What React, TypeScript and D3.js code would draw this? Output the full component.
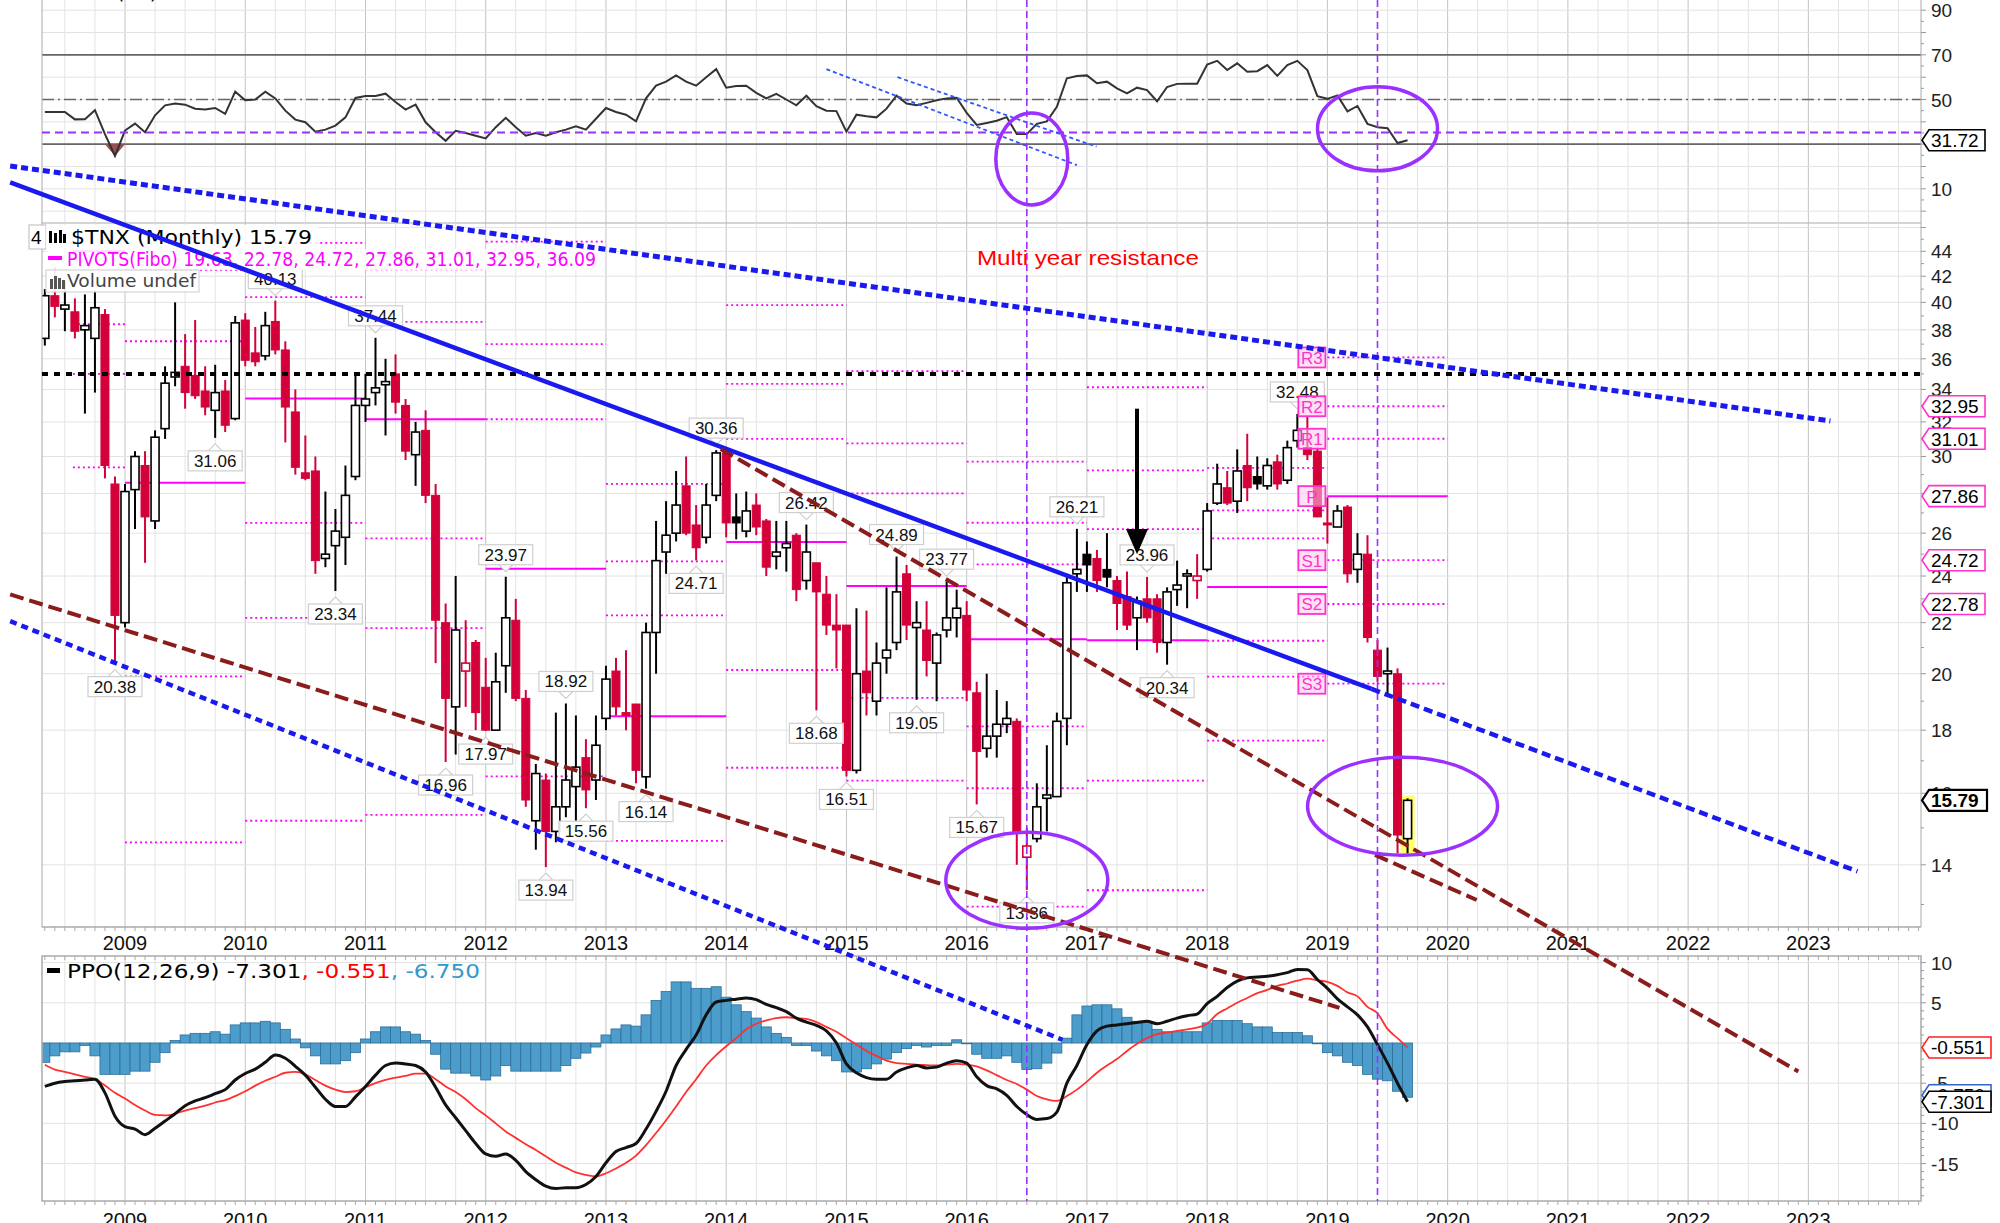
import React from "react";
import * as d3 from "d3";

// ---------------- DATA ----------------
// month index relative to Jan 2009 (0 = Jan 2009); first bar = May 2008
const START_MONTH = -8;

const opens = [
  37.4, 40.5, 39.5, 39.3, 38.0, 37.4, 39.1, 28.5,
  22.0, 28.2, 29.5, 26.6, 31.6, 34.8, 35.5, 34.9, 33.9, 32.7, 33.9, 32.2,
  38.7, 36.4, 36.2, 38.6, 36.6, 32.6, 29.1, 29.2, 24.8, 25.4, 25.8, 28.9,
  33.0, 33.8, 34.3, 35.0, 33.0, 30.1, 31.5, 27.9, 22.0, 18.8, 20.1, 21.2,
  19.5, 18.0, 20.3, 22.1, 19.1, 15.2, 16.4, 14.9, 15.6, 16.2, 17.1, 16.4,
  18.4, 20.1, 18.6, 18.9, 16.5, 21.6, 25.1, 26.0, 28.4, 26.4, 25.8, 27.9,
  30.2, 26.8, 26.1, 27.4, 26.6, 24.9, 25.3, 25.9, 23.8, 24.6, 23.2, 21.9,
  21.9, 16.7, 20.1, 19.0, 20.6, 21.2, 24.1, 21.8, 21.7, 20.4, 21.7, 22.2,
  22.3, 19.3, 17.4, 17.8, 18.2, 18.3, 14.2, 14.7, 15.85, 15.9, 18.4, 24.1,
  25.0, 24.8, 24.3, 23.8, 23.1, 22.2, 23.0, 23.0, 21.2, 23.4, 24.0, 23.8,
  24.3, 27.5, 28.3, 27.6, 29.5, 28.9, 28.4, 29.7, 28.7, 30.9, 30.5, 30.3,
  26.5, 26.3, 27.3, 24.3, 25.0, 20.9, 20.0, 20.0, 14.7,
];
const highs = [
  41.0, 42.7, 41.6, 40.3, 40.6, 40.9, 39.5, 28.9,
  28.5, 30.3, 30.3, 31.5, 35.5, 40.0, 37.7, 38.7, 35.5, 35.6, 34.6, 39.0,
  39.2, 38.2, 39.3, 40.13, 37.2, 34.0, 31.2, 30.0, 28.1, 27.2, 29.5, 35.0,
  35.0, 37.44, 36.0, 36.3, 33.4, 32.0, 32.7, 28.5, 22.8, 24.0, 22.1, 21.3,
  20.6, 20.8, 23.97, 23.0, 19.4, 16.9, 16.6, 18.6, 18.92, 18.5, 17.7, 18.5,
  20.3, 20.6, 20.9, 18.9, 22.0, 26.6, 27.6, 29.2, 30.0, 27.4, 28.5, 30.36,
  30.3, 28.0, 28.1, 28.0, 26.7, 26.6, 26.6, 26.0, 26.42, 24.6, 24.0, 23.2,
  21.9, 22.6, 22.5, 21.2, 23.5, 24.89, 24.5, 22.9, 22.9, 21.6, 23.77, 23.4,
  22.9, 19.7, 20.0, 19.4, 19.0, 18.4, 15.0, 16.3, 17.5, 18.6, 24.1, 26.21,
  25.6, 25.2, 26.0, 24.0, 24.2, 23.1, 23.96, 23.2, 23.5, 24.7, 24.3, 25.0,
  27.5, 29.6, 29.2, 30.4, 31.3, 30.0, 29.9, 30.1, 30.9, 32.48, 32.3, 30.5,
  27.8, 27.4, 27.4, 26.0, 25.9, 21.3, 21.0, 20.2, 15.85,
];
const lows = [
  36.9, 38.9, 37.9, 37.4, 32.5, 33.8, 28.8, 20.38,
  21.8, 26.2, 24.6, 26.2, 31.0, 34.2, 32.8, 33.4, 32.4, 31.06, 31.4, 32.1,
  35.5, 35.5, 35.9, 36.3, 30.8, 29.0, 28.7, 24.1, 24.4, 23.34, 24.5, 28.7,
  32.0, 33.0, 31.2, 32.5, 29.8, 28.4, 27.5, 20.4, 16.96, 17.2, 18.8, 18.0,
  17.97, 18.0, 19.3, 19.0, 15.6, 14.4, 13.94, 14.6, 15.3, 15.2, 15.56, 15.8,
  18.0, 18.5, 18.0, 16.3, 16.14, 20.0, 24.1, 25.6, 25.9, 24.71, 25.5, 27.6,
  25.8, 25.7, 25.8, 25.9, 24.0, 24.3, 24.2, 22.9, 23.4, 18.68, 21.5, 20.2,
  16.51, 16.6, 18.5, 18.5, 20.0, 20.9, 21.3, 19.05, 19.9, 19.0, 21.4, 21.4,
  19.0, 15.67, 17.1, 17.1, 17.9, 14.0, 13.36, 14.6, 14.9, 15.9, 17.5, 23.3,
  23.3, 23.3, 23.5, 21.7, 21.7, 20.9, 22.0, 20.8, 20.34, 22.7, 22.6, 23.0,
  24.2, 27.4, 27.4, 27.0, 27.6, 28.2, 28.2, 28.2, 28.5, 30.5, 29.8, 26.8,
  25.5, 26.3, 23.7, 23.7, 21.2, 19.7, 19.2, 14.3, 14.3,
];
const closes = [
  40.5, 39.7, 39.8, 37.9, 38.3, 39.6, 29.5, 22.3,
  28.1, 30.0, 26.8, 31.1, 34.4, 35.1, 33.8, 33.6, 32.9, 33.8, 31.8, 38.5,
  35.9, 35.8, 38.3, 36.6, 32.9, 29.4, 28.8, 24.7, 25.0, 26.1, 27.9, 33.0,
  33.4, 34.1, 34.5, 33.2, 30.3, 31.4, 27.9, 22.1, 19.1, 21.7, 20.4, 18.6,
  18.0, 19.7, 22.2, 19.1, 15.8, 16.6, 14.9, 15.6, 16.4, 16.8, 16.1, 17.5,
  19.8, 18.8, 18.5, 16.7, 21.6, 24.7, 25.9, 27.4, 26.0, 25.3, 27.4, 30.2,
  26.5, 26.5, 27.1, 26.3, 24.4, 25.1, 25.5, 23.4, 25.1, 23.3, 21.9, 21.7,
  16.7, 20.0, 19.3, 20.4, 20.9, 23.3, 21.9, 22.0, 20.5, 21.5, 22.2, 22.6,
  19.4, 17.3, 17.8, 18.2, 18.4, 14.9, 14.5, 15.6, 15.95, 18.3, 23.7, 24.3,
  24.5, 23.8, 23.95, 22.8, 21.9, 22.9, 22.2, 21.2, 23.3, 23.6, 24.1, 24.0,
  27.1, 28.5, 27.5, 29.2, 28.3, 28.5, 29.5, 28.5, 30.5, 31.5, 30.1, 26.8,
  26.4, 27.1, 24.1, 25.0, 21.4, 19.9, 20.1, 14.8, 15.79,
];

const rsiValues = [
  44.4, 44.4, 44.4, 41.1, 41.2, 45.2, 34.5, 24.7,
  36.1, 39.2, 35.3, 42.9, 47.4, 48.2, 47.7, 45.9, 45.5, 46.2, 43.6, 53.5,
  49.7, 50.0, 53.5, 50.5, 45.0, 41.0, 39.8, 35.6, 36.5, 38.3, 42.0, 50.7,
  51.6, 51.6, 52.6, 48.9, 45.5, 47.7, 39.8, 35.3, 31.5, 36.0, 35.0, 33.8,
  32.6, 37.6, 41.8, 37.6, 33.8, 35.0, 33.8, 35.3, 36.5, 38.0, 36.5, 41.4,
  46.2, 44.4, 43.2, 40.2, 50.5, 56.2, 58.0, 60.8, 58.0, 56.2, 60.0, 63.6,
  55.3, 56.0, 56.2, 53.0, 50.5, 52.5, 50.0, 47.4, 51.7, 47.0, 45.0, 44.8,
  35.6, 43.2, 42.5, 42.0, 45.9, 51.7, 48.2, 47.4, 48.5, 49.7, 50.5, 50.8,
  44.0, 38.6, 39.5, 40.5, 42.1, 34.5, 34.5, 39.1, 40.2, 46.7, 59.5, 60.5,
  60.8, 57.3, 58.0, 55.0, 52.7, 55.3, 54.2, 49.2, 55.6, 57.0, 57.1, 57.1,
  65.7, 67.3, 63.2, 66.2, 62.4, 62.7, 65.4, 60.6, 65.4, 67.3, 63.2, 51.5,
  50.3, 51.8, 44.7, 47.1, 39.1, 37.6, 37.1, 30.5, 31.72,
];

const ppoValues = [
  -5.4, -5.0, -4.8, -4.7, -4.6, -4.5, -6.2, -9.1,
  -10.4, -10.7, -11.4, -10.6, -9.7, -8.8, -7.8, -7.2, -6.8, -6.3, -5.8, -4.6,
  -3.8, -3.25, -2.4, -1.5, -1.9, -2.9, -4.0, -5.5, -7.0, -7.9, -7.9, -6.7,
  -5.4, -4.0, -2.8, -2.5, -2.6, -2.8, -3.6, -5.5, -7.7, -9.3, -10.9, -12.5,
  -13.8, -14.1, -13.8, -14.6, -16.0, -17.0, -17.8, -18.1, -18.0, -18.0, -17.6, -16.6,
  -14.9, -13.5, -13.0, -12.5, -10.7, -8.5, -6.0, -2.8, -0.8, 1.0, 3.5, 5.1,
  5.3, 5.45, 5.6, 5.4, 4.8, 4.4, 3.9, 3.1, 2.6, 2.2, 1.5, 0.0,
  -2.6, -3.7, -4.3, -4.5, -4.5, -3.6, -3.1, -2.8, -3.1, -3.0, -2.5, -2.2,
  -2.5, -4.2, -5.3, -5.7, -6.5, -7.9, -8.9, -9.5, -9.4, -8.6, -5.0, -2.8,
  -0.2, 1.5, 2.1, 2.25, 2.4, 2.55, 2.7, 2.4, 2.7, 3.1, 3.4, 3.6,
  4.9, 5.8, 6.9, 7.7, 8.1, 8.2, 8.3, 8.5, 8.75, 9.15, 9.1, 7.9,
  6.8, 5.5, 4.5, 3.5, 2.0, -0.2, -2.5, -5.0, -7.301,
];
const signalValues = [
  -2.7, -3.3, -3.6, -3.9, -4.2, -4.5, -5.3, -6.2,
  -6.9, -7.7, -8.4, -8.95, -9.0, -8.8, -8.4, -8.1, -7.8, -7.4, -7.1, -6.6,
  -6.0, -5.3, -4.7, -4.2, -3.7, -3.6, -3.9, -4.6, -5.3, -5.8, -6.1, -6.0,
  -5.5, -5.0, -4.6, -4.3, -4.1, -3.8, -3.8, -4.5, -5.4, -6.1, -7.0, -8.1,
  -9.0, -10.0, -11.0, -11.8, -12.6, -13.3, -14.1, -14.9, -15.5, -16.1, -16.4, -16.6,
  -16.2, -15.6, -14.9, -14.0, -12.7, -11.2, -9.6, -7.9, -6.1, -4.5, -2.8, -1.5,
  -0.4, 0.6, 1.7, 2.4, 2.8, 3.1, 3.2, 3.1, 3.0, 2.6, 2.0, 1.4,
  0.6, -0.2, -1.0, -1.6, -2.2, -2.5, -2.6, -2.7, -2.75, -2.8, -2.7, -2.6,
  -2.7, -2.9, -3.4, -4.0, -4.6, -5.1, -5.8, -6.6, -7.0, -7.2, -6.6, -5.8,
  -4.8, -3.7, -2.8, -2.0, -1.0, -0.1, 0.6, 1.1, 1.3, 1.5, 1.7, 1.9,
  2.4, 3.6, 4.3, 5.0, 5.6, 6.2, 6.6, 7.1, 7.4, 7.75, 8.0, 7.8,
  7.6, 7.1, 6.3, 5.8, 4.5, 3.7, 1.75, 0.6, -0.551,
];
const histValues = [
  -2.4, -1.6, -1.1, -1.1, -0.3, -1.6, -3.9, -3.9,
  -3.9, -3.5, -3.5, -2.4, -1.2, 0.3, 1.0, 1.2, 1.2, 1.4, 1.1, 2.25,
  2.5, 2.5, 2.7, 2.5, 1.7, 0.5, -0.6, -1.6, -2.6, -2.6, -2.2, -1.2,
  0.5, 1.4, 2.0, 2.0, 1.4, 1.1, 0.3, -1.4, -3.25, -3.75, -3.75, -4.1,
  -4.6, -4.1, -2.8, -3.5, -3.5, -3.5, -3.5, -3.5, -2.8, -1.9, -1.25, -0.5,
  1.0, 1.75, 2.25, 2.1, 3.5, 5.3, 6.4, 7.6, 7.6, 6.8, 6.8, 7.0,
  5.7, 4.75, 3.9, 3.1, 2.0, 1.2, 0.7, -0.3, -0.3, -1.0, -1.6, -2.2,
  -3.6, -3.6, -3.2, -2.6, -2.0, -1.2, -0.7, -0.3, -0.5, -0.3, -0.3, 0.4,
  -0.1, -1.4, -1.9, -1.9, -1.6, -2.4, -3.3, -3.2, -2.5, -1.25, 0.6, 3.5,
  4.6, 4.75, 4.75, 4.25, 3.2, 2.7, 2.7, 1.7, 1.4, 1.4, 1.4, 1.4,
  2.5, 2.8, 2.8, 2.8, 2.4, 2.0, 2.0, 1.3, 1.3, 1.3, 0.9, -0.1,
  -1.2, -1.6, -2.4, -2.8, -3.9, -4.5, -4.7, -6.0, -6.75,
];

const yearLabels = [2009, 2010, 2011, 2012, 2013, 2014, 2015, 2016, 2017, 2018, 2019, 2020, 2021, 2022, 2023];
const rsiTickValues = [90, 70, 50, 30, 10];
const priceTickValues = [14, 16, 18, 20, 22, 24, 26, 28, 30, 32, 34, 36, 38, 40, 42, 44];
const ppoTickValues = [10, 5, 0, -5, -10, -15];

// Fibonacci pivots per calendar year (drawn across that year)
const pivotYears = [2008, 2009, 2010, 2011, 2012, 2013, 2014, 2015, 2016, 2017, 2018, 2019];
const pivotP = [44.0, 28.56, 33.43, 32.16, 24.33, 18.47, 25.57, 23.56, 21.33, 21.29, 23.51, 27.86];
const pivotR1 = [49.6, 37.2, 40.4, 38.57, 32.16, 22.3, 31.0, 28.0, 24.53, 26.2, 25.75, 31.01];
const pivotR2 = [53.0, 42.5, 44.7, 42.54, 37.0, 24.67, 34.36, 30.74, 26.51, 29.23, 27.13, 32.95];
const pivotR3 = [58.6, 51.2, 51.6, 48.95, 44.81, 28.5, 39.79, 35.18, 29.71, 34.14, 29.37, 36.09];
const pivotS1 = [38.4, 19.9, 26.5, 25.75, 16.51, 14.64, 20.14, 19.12, 18.13, 16.38, 21.27, 24.72];
const pivotS2 = [35.0, 14.6, 22.2, 21.78, 11.67, 12.27, 16.78, 16.38, 16.15, 13.35, 19.89, 22.78];
const pivotS3 = [29.4, 5.9, 15.2, 15.37, 3.85, 8.44, 11.35, 11.94, 12.95, 8.44, 17.65, 19.63];
const pivotNames = ["R3", "R2", "R1", "P", "S1", "S2", "S3"];
const pivotBoxValues = [32.95, 31.01, 27.86, 24.72, 22.78];

// labelled highs / lows
const peakMonths = [-1, 9, 15, 21, 25, 32, 36, 38, 42, 44, 46, 52, 59, 57, 68, 69, 72, 77, 82, 79, 85, 90, 95, 102, 104, 117];
const peakValues = [20.38, 31.06, 40.13, 23.34, 37.44, 16.96, 17.97, 23.97, 13.94, 18.92, 15.56, 16.14, 30.36, 24.71, 26.42, 18.68, 16.51, 24.89, 23.77, 19.05, 15.67, 13.36, 26.21, 23.96, 20.34, 32.48];
const peakIsHigh = [false, false, true, false, true, false, false, true, false, true, false, false, true, false, true, false, false, true, true, false, false, false, true, true, false, true];

// hand-drawn annotations: [month index, value]
const upperBlueDotted = [[-11.46, 51.6], [170.2, 32.06]];
const blueSolid = [[-11.46, 50.05], [124.4, 19.44]];
const blueSolidExt = [[124.4, 19.44], [172.9, 13.83]];
const lowerBlueDotted = [[-11.46, 22.06], [93.56, 10.1]];
const brownLower = [[-11.46, 23.19], [121.2, 10.72]];
const brownFrom2014 = [[59.45, 30.42], [167.0, 9.52]];
const brownShort = [[124.75, 14.26], [134.9, 13.11]];
const rsiBlueA = [[70.0, 63.6], [95.0, 20.6]];
const rsiBlueB = [[77.1, 60.0], [96.96, 28.85]];
const resistanceLevel = 35.0;
const rsiGuideLevel = 35.2;
const markerMonths = [90, 125];
const arrowMonth = 101;
const arrowValues = [32.8, 26.2, 25.0];

// ---------------- COMPONENT ----------------
const AX = "'Liberation Sans', Arial, sans-serif";
const LG = "'DejaVu Sans', Verdana, sans-serif";

export default function App() {
  const W = 2000, H = 1223;
  const L = 42, R = 1921;
  const rsiTop = -20, rsiBottom = 223;
  const priceTop = 223, priceBottom = 927;
  const ppoTop = 956, ppoBottom = 1201;

  const x = d3.scaleLinear().domain([0, 12]).range([125, 245.24]);
  const rsiY = d3.scaleLinear().domain([10, 90]).range([188.8, 10.2]);
  const pY = d3.scaleLog().domain([14, 44]).range([864.8, 251.3]);
  const ppoY = d3.scaleLinear().domain([-15, 10]).range([1163.6, 962.6]);

  const months = closes.map((_, i) => START_MONTH + i);
  const allMonths = d3.range(-8, 180);
  const quarterMonths = allMonths.filter((m) => ((m % 3) + 3) % 3 === 0);

  const red = "#d4003a";
  const magenta = "#ff00ff";
  const purple = "#9b30ff";

  const pLine = (pts: number[][]) => d3.line()(pts.map(([m, v]) => [x(m), pY(v)]) as [number, number][]) || "";
  const rLine = (pts: number[][]) => d3.line()(pts.map(([m, v]) => [x(m), rsiY(v)]) as [number, number][]) || "";

  const rsiPath = d3.line<number>().x((_, i) => x(months[i])).y((d) => rsiY(d))(rsiValues) || "";
  const rsiFill = d3.area<number>().x((_, i) => x(months[i])).y0(rsiY(30)).y1((d) => rsiY(Math.min(d, 30)))(rsiValues) || "";
  const ppoPath = d3.line<number>().x((_, i) => x(months[i])).y((d) => ppoY(d)).curve(d3.curveMonotoneX)(ppoValues) || "";
  const sigPath = d3.line<number>().x((_, i) => x(months[i])).y((d) => ppoY(d)).curve(d3.curveMonotoneX)(signalValues) || "";

  const vGrid = (top: number, bottom: number) =>
    quarterMonths.map((m) => (
      <line key={"v" + m} x1={x(m)} x2={x(m)} y1={top} y2={bottom}
        stroke={m % 12 === 0 ? "#c4c4c4" : "#e3e3e3"} strokeWidth={1} />
    ));

  const valueBox = (y: number, text: string, stroke: string, w: number, color = "#000", bold = false, key = "") => (
    <g key={key || text}>
      <path d={`M${R + 1},${y} L${R + 8},${y - 10.5} L${R + 8 + w},${y - 10.5} L${R + 8 + w},${y + 10.5} L${R + 8},${y + 10.5} Z`}
        fill="#fff" stroke={stroke} strokeWidth={bold ? 2.2 : 1.6} />
      <text x={R + 10} y={y + 7} fontFamily={AX} fontSize={19} fontWeight={bold ? 700 : 400} fill={color}>{text}</text>
    </g>
  );

  const lastIdx = closes.length - 1;

  return (
    <svg width={W} height={H} viewBox={`0 0 ${W} ${H}`} style={{ position: "absolute", left: 0, top: 0, background: "#fff" }}
      xmlns="http://www.w3.org/2000/svg">
      <defs>
        <clipPath id="clipRsi"><rect x={L} y={rsiTop} width={R - L} height={rsiBottom - rsiTop} /></clipPath>
        <clipPath id="clipPrice"><rect x={L} y={priceTop} width={R - L} height={priceBottom - priceTop} /></clipPath>
        <clipPath id="clipPpo"><rect x={L} y={ppoTop} width={R - L} height={ppoBottom - ppoTop} /></clipPath>
      </defs>
      <rect x={0} y={0} width={W} height={H} fill="#fff" />

      {/* ---------- RSI panel ---------- */}
      <g clipPath="url(#clipRsi)">
        {vGrid(rsiTop, rsiBottom)}
        {d3.range(0, 101, 10).map((v) => (
          <line key={"rg" + v} x1={L} x2={R} y1={rsiY(v)} y2={rsiY(v)} stroke="#e3e3e3" />
        ))}
        <line x1={L} x2={R} y1={rsiY(70)} y2={rsiY(70)} stroke="#666" strokeWidth={1.6} />
        <line x1={L} x2={R} y1={rsiY(30)} y2={rsiY(30)} stroke="#666" strokeWidth={1.6} />
        <line x1={L} x2={R} y1={rsiY(50)} y2={rsiY(50)} stroke="#666" strokeWidth={1.3} strokeDasharray="12,4,2,4" />
        <path d={rsiFill} fill="#9a5050" />
        <path d={rsiPath} fill="none" stroke="#333" strokeWidth={2} />
      </g>
      <line x1={L} x2={L} y1={0} y2={rsiBottom} stroke="#aaa" />
      <line x1={R} x2={R} y1={0} y2={rsiBottom} stroke="#aaa" />
      <line x1={L} x2={R} y1={rsiBottom} y2={rsiBottom} stroke="#aaa" />
      <text x={84} y={-1} fontFamily={LG} fontSize={20} fill="#000">RSI(14) 31.72</text>

      {/* ---------- Price panel ---------- */}
      <g clipPath="url(#clipPrice)">
        {vGrid(priceTop, priceBottom)}
        {d3.range(14, 47, 2).map((v) => (
          <line key={"pg" + v} x1={L} x2={R} y1={pY(v)} y2={pY(v)} stroke="#e3e3e3" />
        ))}
        {/* pivots */}
        {pivotYears.map((yr, k) => {
          const s = yr === 2008 ? -5.2 : (yr - 2009) * 12;
          const e = (yr - 2009) * 12 + 12;
          const dotted = [pivotR3[k], pivotR2[k], pivotR1[k], pivotS1[k], pivotS2[k], pivotS3[k]];
          return (
            <g key={"pv" + yr}>
              {dotted.map((v, j) => (
                <line key={j} x1={x(s)} x2={x(e)} y1={pY(v)} y2={pY(v)} stroke={magenta} strokeWidth={1.8} strokeDasharray="2,3" />
              ))}
              <line x1={x(s)} x2={x(e)} y1={pY(pivotP[k])} y2={pY(pivotP[k])} stroke={magenta} strokeWidth={2} />
            </g>
          );
        })}
        {/* highlight last bar */}
        <rect x={x(months[lastIdx]) - 7} y={pY(highs[lastIdx]) - 3} width={14}
          height={pY(lows[lastIdx]) - pY(highs[lastIdx]) + 6} fill="#ffff66" />
        {/* candles */}
        {closes.map((c, i) => {
          const o = opens[i];
          const prev = i > 0 ? closes[i - 1] : o;
          const col = c >= prev ? "#000" : red;
          const filled = c < o;
          const cx = x(months[i]);
          const yTop = pY(Math.max(o, c));
          const yBot = pY(Math.min(o, c));
          const h = Math.max(yBot - yTop, 2);
          return (
            <g key={"c" + i}>
              <line x1={cx} x2={cx} y1={pY(highs[i])} y2={pY(lows[i])} stroke={col} strokeWidth={2} />
              <rect x={cx - 4} y={yTop} width={8} height={h} fill={filled ? col : "#fff"} stroke={col} strokeWidth={filled ? 1 : 1.6} />
            </g>
          );
        })}
      </g>
      <line x1={L} x2={L} y1={priceTop} y2={priceBottom} stroke="#aaa" />
      <line x1={R} x2={R} y1={priceTop} y2={priceBottom} stroke="#aaa" />
      <line x1={L} x2={R} y1={priceBottom} y2={priceBottom} stroke="#aaa" strokeWidth={1.5} />
      {allMonths.map((m) => (
        <line key={"pt" + m} x1={x(m)} x2={x(m)} y1={priceBottom} y2={priceBottom + 4} stroke="#aaa" />
      ))}

      {/* peak labels */}
      {peakMonths.map((m, i) => {
        const lx = x(m);
        const hi = peakIsHigh[i];
        const py = pY(peakValues[i]);
        const cy = hi ? py - 22 : py + 23;
        const tri = hi
          ? `M${lx - 7},${cy + 10} L${lx},${cy + 17} L${lx + 7},${cy + 10}`
          : `M${lx - 7},${cy - 10} L${lx},${cy - 17} L${lx + 7},${cy - 10}`;
        return (
          <g key={"pk" + i}>
            <path d={tri} fill="#fff" stroke="#cfcfcf" strokeWidth={1.2} />
            <rect x={lx - 27} y={cy - 10} width={54} height={20} fill="#fff" fillOpacity={0.9} stroke="#cfcfcf" strokeWidth={1.2} />
            <text x={lx} y={cy + 6} textAnchor="middle" fontFamily={AX} fontSize={17} fill="#111">{peakValues[i].toFixed(2)}</text>
          </g>
        );
      })}

      {/* 2019 pivot name boxes */}
      {pivotNames.map((nm, j) => {
        const v = [pivotR3[11], pivotR2[11], pivotR1[11], pivotP[11], pivotS1[11], pivotS2[11], pivotS3[11]][j];
        const bx = x(120) - 29;
        return (
          <g key={"pn" + nm}>
            <rect x={bx} y={pY(v) - 10} width={27} height={20} fill="#ffc8ee" fillOpacity={0.55} stroke="#ff33cc" strokeWidth={1.8} />
            <text x={bx + 13.5} y={pY(v) + 6.5} textAnchor="middle" fontFamily={AX} fontSize={17} fill="#ff33cc">{nm}</text>
          </g>
        );
      })}

      {/* ---------- PPO panel ---------- */}
      <g clipPath="url(#clipPpo)">
        {vGrid(ppoTop, ppoBottom)}
        {d3.range(-20, 15, 5).map((v) => (
          <line key={"og" + v} x1={L} x2={R} y1={ppoY(v)} y2={ppoY(v)} stroke="#e3e3e3" />
        ))}
        {histValues.map((h, i) => {
          const cx = x(months[i]);
          const y0 = ppoY(0), y1 = ppoY(h);
          return (
            <rect key={"h" + i} x={cx - 5} y={Math.min(y0, y1)} width={10} height={Math.max(Math.abs(y1 - y0), 0.5)}
              fill="#4d9dcc" stroke="#2b6e98" strokeWidth={0.8} />
          );
        })}
        <path d={sigPath} fill="none" stroke="#ff3030" strokeWidth={1.8} />
        <path d={ppoPath} fill="none" stroke="#111" strokeWidth={3} />
      </g>
      <rect x={L} y={ppoTop} width={R - L} height={ppoBottom - ppoTop} fill="none" stroke="#aaa" strokeWidth={1.5} />
      {allMonths.map((m) => (
        <g key={"ot" + m}>
          <line x1={x(m)} x2={x(m)} y1={ppoTop} y2={ppoTop + 4} stroke="#aaa" />
          <line x1={x(m)} x2={x(m)} y1={ppoBottom} y2={ppoBottom + 4} stroke="#aaa" />
        </g>
      ))}

      {/* ---------- x axis labels ---------- */}
      {yearLabels.map((yr) => (
        <g key={"yl" + yr}>
          <text x={x((yr - 2009) * 12)} y={950} textAnchor="middle" fontFamily={AX} fontSize={20} fill="#111">{yr}</text>
          <text x={x((yr - 2009) * 12)} y={1227} textAnchor="middle" fontFamily={AX} fontSize={20} fill="#111">{yr}</text>
        </g>
      ))}

      {/* ---------- right axis ---------- */}
      {d3.range(0, 101, 5).map((v) => (
        <line key={"rmt" + v} x1={R} x2={R + (v % 10 === 0 ? 5 : 3)} y1={rsiY(v)} y2={rsiY(v)} stroke="#999" />
      ))}
      {rsiTickValues.map((v) => (
        <text key={"rt" + v} x={R + 10} y={rsiY(v) + 7} fontFamily={AX} fontSize={19} fill="#222">{v}</text>
      ))}
      {d3.range(13, 47, 1).map((v) => (
        <line key={"pmt" + v} x1={R} x2={R + (v % 2 === 0 ? 5 : 3)} y1={pY(v)} y2={pY(v)} stroke="#999" />
      ))}
      {priceTickValues.map((v) => (
        <text key={"prt" + v} x={R + 10} y={pY(v) + 7} fontFamily={AX} fontSize={19} fill="#222">{v}</text>
      ))}
      {d3.range(-19, 11, 1).map((v) => (
        <line key={"omt" + v} x1={R} x2={R + (v % 5 === 0 ? 5 : 3)} y1={ppoY(v)} y2={ppoY(v)} stroke="#999" />
      ))}
      {ppoTickValues.map((v) => (
        <text key={"ort" + v} x={R + 10} y={ppoY(v) + 7} fontFamily={AX} fontSize={19} fill="#222">{v}</text>
      ))}

      {valueBox(rsiY(31.72), "31.72", "#000", 56, "#000", false, "rsi")}
      {pivotBoxValues.map((v) => valueBox(pY(v), v.toFixed(2), "#ff33cc", 56, "#000", false, "pb" + v))}
      {valueBox(pY(closes[lastIdx]), closes[lastIdx].toFixed(2), "#000", 58, "#000", true, "last")}
      {valueBox(ppoY(signalValues[lastIdx]), signalValues[lastIdx].toFixed(3), "#ff2020", 62, "#000", false, "sig")}
      {valueBox(ppoY(histValues[lastIdx]) - 2, histValues[lastIdx].toFixed(3), "#3366cc", 62, "#000", false, "hist")}
      {valueBox(ppoY(ppoValues[lastIdx]), ppoValues[lastIdx].toFixed(3), "#000", 62, "#000", false, "ppo")}

      {/* ---------- legends ---------- */}
      <rect x={29} y={225} width={17} height={24} fill="#fff" stroke="#bbb" />
      <text x={31} y={244} fontFamily={AX} fontSize={19} fill="#000">4</text>
      <rect x={46} y={225} width={272} height={24} fill="#fff" fillOpacity={0.85} />
      <g fill="#000">
        <rect x={49} y={231} width={3} height={12} />
        <rect x={54} y={233} width={3} height={10} />
        <rect x={59} y={230} width={3} height={13} />
        <rect x={63} y={234} width={3} height={9} />
      </g>
      <text x={71} y={244} fontFamily={LG} fontSize={20} fill="#000" textLength={241} lengthAdjust="spacingAndGlyphs">$TNX (Monthly) 15.79</text>
      <rect x={46} y={249} width={555} height={21} fill="#fff" fillOpacity={0.85} />
      <rect x={48} y={256} width={14} height={4} fill={magenta} />
      <text x={67} y={266} fontFamily={LG} fontSize={19} fill={magenta} textLength={529} lengthAdjust="spacingAndGlyphs">PIVOTS(Fibo) 19.63, 22.78, 24.72, 27.86, 31.01, 32.95, 36.09</text>
      <rect x={46} y={270} width={153} height={22} fill="#fff" fillOpacity={0.9} stroke="#ccc" />
      <g fill="#555">
        <rect x={50} y={279} width={3} height={10} />
        <rect x={54} y={276} width={3} height={13} />
        <rect x={58} y={278} width={3} height={11} />
        <rect x={62} y={280} width={3} height={9} />
      </g>
      <text x={67} y={287} fontFamily={LG} fontSize={18} fill="#444" textLength={129} lengthAdjust="spacingAndGlyphs">Volume undef</text>

      <rect x={47} y={968} width={13} height={5} fill="#000" />
      <text x={67} y={978} fontFamily={LG} fontSize={20} textLength={413} lengthAdjust="spacingAndGlyphs">
        <tspan fill="#000">PPO(12,26,9) -7.301</tspan>
        <tspan fill="#ff0000">, -0.551</tspan>
        <tspan fill="#3399cc">, -6.750</tspan>
      </text>

      {/* ---------- annotations ---------- */}
      <line x1={L} x2={R} y1={rsiY(rsiGuideLevel)} y2={rsiY(rsiGuideLevel)} stroke={purple} strokeWidth={2} strokeDasharray="8,5" />
      <path d={rLine(rsiBlueA)} stroke="#3355ff" strokeWidth={1.8} strokeDasharray="4,3" fill="none" />
      <path d={rLine(rsiBlueB)} stroke="#3355ff" strokeWidth={1.8} strokeDasharray="4,3" fill="none" />
      {markerMonths.map((m) => (
        <line key={"mk" + m} x1={x(m)} x2={x(m)} y1={0} y2={ppoBottom} stroke={purple} strokeWidth={1.6} strokeDasharray="7,4" />
      ))}
      <line x1={L} x2={R} y1={pY(resistanceLevel)} y2={pY(resistanceLevel)} stroke="#000" strokeWidth={4} strokeDasharray="6,6" />
      <path d={pLine(upperBlueDotted)} stroke="#1a1aee" strokeWidth={5} strokeDasharray="7,4" fill="none" />
      <path d={pLine(blueSolid)} stroke="#1a1aee" strokeWidth={4.5} fill="none" />
      <path d={pLine(blueSolidExt)} stroke="#1a1aee" strokeWidth={4.5} strokeDasharray="9,5" fill="none" />
      <path d={pLine(lowerBlueDotted)} stroke="#1a1aee" strokeWidth={4.5} strokeDasharray="7,5" fill="none" />
      <path d={pLine(brownLower)} stroke="#8b1c1c" strokeWidth={4} strokeDasharray="14,6" fill="none" />
      <path d={pLine(brownFrom2014)} stroke="#8b1c1c" strokeWidth={4} strokeDasharray="14,6" fill="none" />
      <path d={pLine(brownShort)} stroke="#8b1c1c" strokeWidth={4} strokeDasharray="14,6" fill="none" />

      {/* arrow */}
      <line x1={x(arrowMonth)} x2={x(arrowMonth)} y1={pY(arrowValues[0])} y2={pY(arrowValues[1])} stroke="#000" strokeWidth={4} />
      <path d={`M${x(arrowMonth) - 11},${pY(arrowValues[1])} L${x(arrowMonth) + 11},${pY(arrowValues[1])} L${x(arrowMonth)},${pY(arrowValues[2])} Z`} fill="#000" />

      {/* ellipses */}
      <ellipse cx={x(90.5)} cy={rsiY(23.4)} rx={36} ry={46} fill="none" stroke={purple} strokeWidth={3.5} />
      <ellipse cx={x(125.0)} cy={rsiY(36.9)} rx={60} ry={42} fill="none" stroke={purple} strokeWidth={3.5} />
      <ellipse cx={x(90.0)} cy={pY(13.6)} rx={81} ry={48} fill="none" stroke={purple} strokeWidth={3.5} />
      <ellipse cx={x(127.5)} cy={pY(15.62)} rx={95} ry={49} fill="none" stroke={purple} strokeWidth={3.5} />

      <text x={x(96.1)} y={pY(43.5) + 8} textAnchor="middle" fontFamily="'Liberation Sans Narrow', 'Liberation Sans', Arial, sans-serif"
        fontSize={21} fill="#ff0000" textLength={222} lengthAdjust="spacingAndGlyphs">Multi year resistance</text>
    </svg>
  );
}
